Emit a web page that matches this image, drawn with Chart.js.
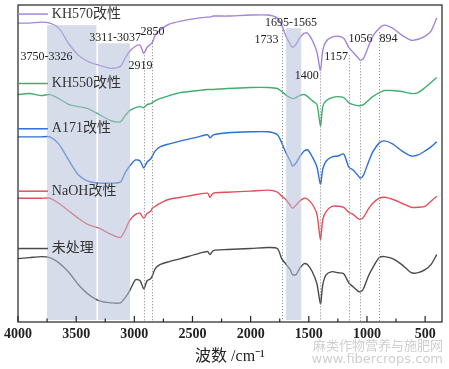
<!DOCTYPE html>
<html>
<head>
<meta charset="utf-8">
<script src="https://cdn.jsdelivr.net/npm/chart.js@4.4.1/dist/chart.umd.min.js"></script>
<style>
  html, body { margin: 0; padding: 0; background: #fff; }
  #wrap { width: 449px; height: 369px; }
</style>
</head>
<body>
<div id="wrap"><canvas id="ftir" width="449" height="369"></canvas></div>
<script>
// wavenumber axis (cm-1)
const wavenumbers = [4000, 3900, 3800, 3726, 3650, 3560, 3480, 3400, 3300, 3200, 3120, 3080, 3040, 2990, 2950, 2919, 2890, 2860, 2845, 2820, 2780, 2700, 2600, 2450, 2370, 2350, 2320, 2200, 2000, 1850, 1770, 1733, 1700, 1660, 1640, 1610, 1580, 1540, 1510, 1470, 1430, 1400, 1380, 1350, 1300, 1250, 1200, 1157, 1120, 1080, 1056, 1030, 990, 950, 894, 850, 780, 700, 620, 560, 500, 450, 400];

// transmittance, arbitrary units (curves are stacked)
const kh570 = [297, 297, 298, 297, 292, 276, 265, 259, 255, 252, 254, 262, 269, 274, 275, 267, 273, 276, 278, 285, 290, 296, 299, 302, 303, 303, 304, 304, 305, 305, 302, 295, 285, 276, 273, 276, 282, 287, 287, 280, 268, 250, 270, 279, 283, 284, 282, 273, 268, 263, 260, 262, 273, 284, 292, 295, 292, 285, 280, 281, 284, 289, 302];
const kh550 = [226, 227, 225, 226, 222, 216, 214, 212, 206, 200, 199, 205, 210, 213, 214, 213, 216, 217, 218, 220, 222, 225, 228, 230, 231, 231, 231, 232, 233, 233, 232, 229, 226, 223, 222, 223, 225, 226, 224, 220, 216, 195, 214, 220, 223, 224, 223, 218, 216, 215, 215, 216, 220, 224, 228, 230, 230, 229, 227, 228, 233, 238, 243];
const a171 = [184, 184, 184, 184, 177, 160, 146, 140, 138, 138, 139, 148, 155, 161, 160, 153, 159, 162, 165, 170, 174, 177, 180, 184, 186, 183, 186, 188, 189, 189, 186, 178, 169, 160, 155, 158, 164, 170, 171, 164, 154, 137, 152, 160, 164, 165, 167, 154, 151, 146, 143, 146, 158, 169, 178, 180, 177, 170, 165, 166, 170, 174, 179];
const naoh = [123, 123, 123, 123, 118, 110, 103, 97, 93, 87, 84, 91, 101, 107, 108, 103, 108, 110, 113, 115, 118, 122, 124, 127, 128, 124, 128, 129, 130, 131, 129, 125, 122, 116, 113, 116, 120, 123, 122, 117, 107, 82, 102, 110, 115, 115, 114, 109, 107, 103, 102, 104, 112, 118, 123, 124, 122, 118, 114, 114, 115, 120, 125];
const untreated = [63, 64, 65, 64, 59, 49, 37, 28, 21, 19, 19, 24, 31, 42, 41, 33, 41, 43, 46, 53, 57, 60, 63, 68, 70, 67, 71, 72, 73, 74, 73, 63, 58, 52, 47, 47, 53, 58, 57, 50, 38, 18, 37, 47, 50, 49, 48, 39, 35, 31, 30, 33, 45, 54, 64, 65, 63, 57, 49, 49, 52, 57, 67];

const seriesNames = ["KH570改性", "KH550改性", "A171改性", "NaOH改性", "未处理"];
const xTickValues = [4000, 3500, 3000, 2500, 2000, 1500, 1000, 500];

// shaded absorption regions
const bandRanges = [[3750, 3326], [3311, 3037], [1695, 1565]];
const bandTops = [295, 277, 292];

// dotted peak markers
const peakPositions = [2919, 2850, 1733, 1400, 1157, 1056, 894];
const peakTops = [265, 280, 290, 248, 265, 258, 288];

// annotation texts and where they sit (wavenumber, transmittance)
const noteTexts = ["3750-3326", "3311-3037", "2850", "2919", "1695-1565", "1733", "1400", "1157", "1056", "894"];
const noteX = [3756, 3165, 2844, 2947, 1654, 1864, 1517, 1265, 1055, 815];
const noteY = [263, 282, 288, 255, 297, 280, 245, 263, 281, 281];

// series name tags at the left
const tagY = [306, 237, 192, 130, 73];

const colors = ["#a383dc", "#3fae6e", "#2d6fd6", "#e2505a", "#4a4a4a"];
const serif = "'Liberation Serif', 'Noto Sans CJK SC', serif";

const overlay = {
  id: "overlay",
  afterDatasetsDraw(chart) {
    const { ctx, chartArea: a, scales: { x, y } } = chart;
    ctx.save();

    // bands drawn over curves, semi transparent
    ctx.fillStyle = "rgba(182,191,219,0.55)";
    bandRanges.forEach(([w1, w2], i) => {
      const x1 = x.getPixelForValue(w1), x2 = x.getPixelForValue(w2);
      const yt = y.getPixelForValue(bandTops[i]);
      ctx.fillRect(x1, yt, x2 - x1, a.bottom - 2 - yt);
    });

    // dotted lines
    ctx.strokeStyle = "#808080";
    ctx.lineWidth = 1;
    ctx.setLineDash([1, 2]);
    peakPositions.forEach((w, i) => {
      const px = Math.round(x.getPixelForValue(w)) + 0.5;
      ctx.beginPath();
      ctx.moveTo(px, y.getPixelForValue(peakTops[i]));
      ctx.lineTo(px, a.bottom - 1);
      ctx.stroke();
    });
    ctx.setLineDash([]);

    // frame
    ctx.strokeStyle = "#222";
    ctx.lineWidth = 1.2;
    ctx.strokeRect(a.left, a.top, a.width, a.height);

    // inward ticks
    xTickValues.forEach(v => {
      const px = x.getPixelForValue(v);
      ctx.beginPath(); ctx.moveTo(px, a.bottom); ctx.lineTo(px, a.bottom - 6); ctx.stroke();
      const m = v - 250;
      if (m > x.min) {
        const pm = x.getPixelForValue(m);
        ctx.beginPath(); ctx.moveTo(pm, a.bottom); ctx.lineTo(pm, a.bottom - 3.5); ctx.stroke();
      }
    });

    // annotations
    ctx.fillStyle = "#222";
    ctx.font = "12px " + serif;
    ctx.textAlign = "center";
    ctx.textBaseline = "middle";
    noteTexts.forEach((t, i) => {
      ctx.fillText(t, x.getPixelForValue(noteX[i]), y.getPixelForValue(noteY[i]));
    });

    // series tags
    ctx.textAlign = "left";
    ctx.font = "14px " + serif;
    seriesNames.forEach((name, i) => {
      const py = y.getPixelForValue(tagY[i]);
      ctx.strokeStyle = colors[i];
      ctx.lineWidth = 1.5;
      ctx.beginPath();
      ctx.moveTo(a.left, py);
      ctx.lineTo(x.getPixelForValue(3743), py);
      ctx.stroke();
      ctx.fillStyle = "#333";
      ctx.fillText(name, x.getPixelForValue(3709), py);
    });

    // watermark
    ctx.fillStyle = "#cfcfcf";
    ctx.textAlign = "right";
    ctx.font = "13px 'Noto Sans CJK SC', sans-serif";
    ctx.fillText("麻类作物营养与施肥网", 443, 345);
    ctx.font = "13px 'DejaVu Sans', sans-serif";
    ctx.fillText("www.fibercrops.com", 443, 360);

    ctx.restore();
  }
};

const seriesData = [kh570, kh550, a171, naoh, untreated];

new Chart(document.getElementById("ftir"), {
  type: "line",
  data: {
    labels: wavenumbers,
    datasets: seriesData.map((vals, i) => ({
      label: seriesNames[i],
      data: wavenumbers.map((w, j) => ({ x: w, y: vals[j] })),
      borderColor: colors[i],
      borderWidth: 1.4,
      pointRadius: 0,
      tension: 0.25,
      fill: false,
    })),
  },
  options: {
    responsive: false,
    animation: false,
    layout: { padding: { left: 16, right: 7, top: 5, bottom: 0 } },
    plugins: { legend: { display: false }, tooltip: { enabled: false } },
    scales: {
      x: {
        type: "linear",
        reverse: true,
        min: 355,
        max: 4000,
        afterBuildTicks: s => { s.ticks = xTickValues.map(v => ({ value: v })); },
        grid: { display: false, drawTicks: false },
        border: { display: false },
        ticks: { color: "#222", font: { family: serif, size: 14, weight: "bold" }, padding: 4, maxRotation: 0, callback: v => String(v) },
        title: { display: true, text: "波数 /cm⁻¹", color: "#222", font: { family: serif, size: 16 }, padding: { top: 0, bottom: 3 } },
      },
      y: { display: false, min: 0, max: 315 },
    },
  },
  plugins: [overlay],
});
</script>
</body>
</html>
